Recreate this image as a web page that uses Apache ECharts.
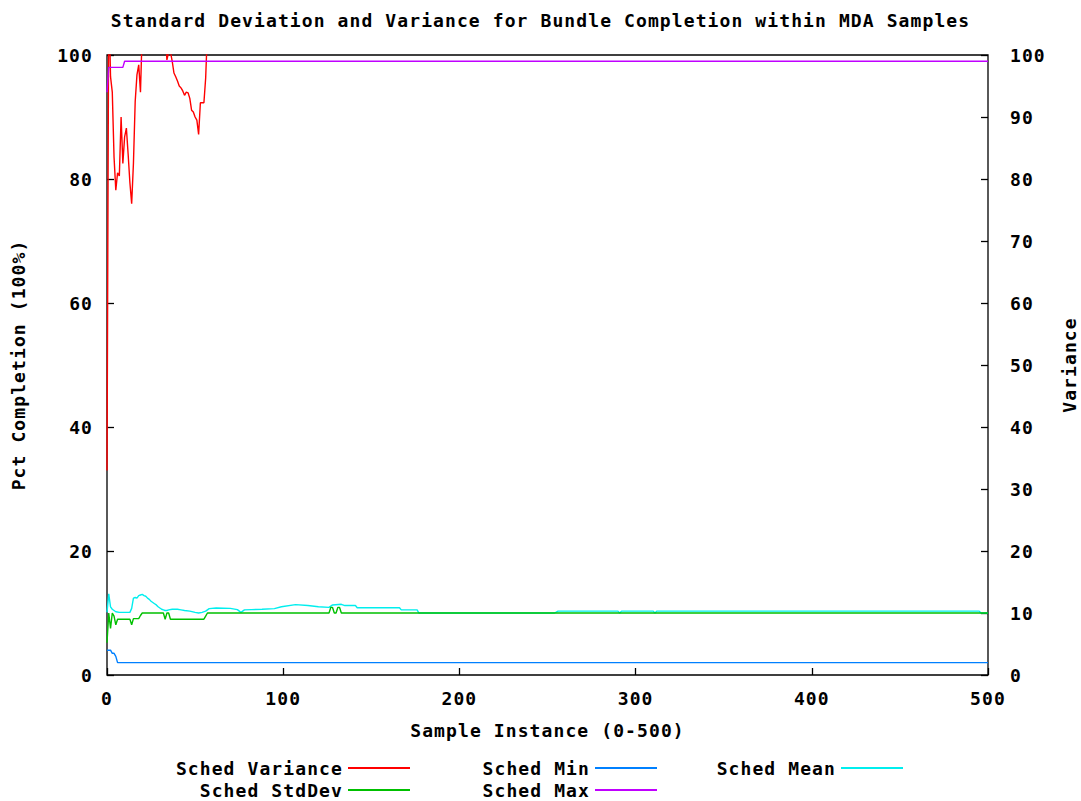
<!DOCTYPE html>
<html>
<head>
<meta charset="utf-8">
<title>Standard Deviation and Variance for Bundle Completion within MDA Samples</title>
<script src="https://cdn.jsdelivr.net/npm/echarts@6/dist/echarts.min.js"></script>
<style>
  html, body { margin: 0; padding: 0; background: #fff; }
  #chart { width: 1081px; height: 801px; }
  #chart text { letter-spacing: 1.1px; }
</style>
</head>
<body>
<div id="chart"></div>
<script>
// [sample, value] pairs; consecutive samples are joined by straight segments
const schedVariance = [
  [0, 33], [1, 110], [2, 96.5], [3, 94], [4, 83.5], [5, 78.2], [6, 81], [7, 80.5],
  [8, 90], [9, 82.5], [10, 86.8], [11, 88.2], [12, 84], [13, 79.4], [14, 76],
  [15, 82.5], [16, 92.5], [17, 96.8], [18, 98.4], [19, 94], [20, 104], [33, 104],
  [34, 99.2], [35, 100.5], [36, 100.5], [37, 99], [38, 97.1], [39, 96.5], [40, 95.8],
  [41, 95], [42, 94.7], [43, 94.2], [44, 93.5], [45, 94], [46, 93.9], [47, 93],
  [48, 91.1], [49, 90.8], [50, 90], [51, 89.5], [52, 87.2], [53, 92.3], [54, 92.3],
  [55, 92.3], [56, 96.3], [57, 104]
];
const schedStdDev = [
  [0, 5.2], [1, 10], [2, 7.5], [3, 10], [4, 9.5], [5, 8.1], [6, 9], [13, 9],
  [14, 8.1], [15, 9.1], [18, 9.1], [19, 9.6], [20, 10], [32, 10], [33, 9], [34, 10],
  [35, 10], [36, 9], [55, 9], [56, 9.5], [57, 10], [126, 10], [127, 10.9], [128, 10.9],
  [129, 10], [130, 10], [131, 10.9], [132, 10.9], [133, 10], [500, 10]
];
const schedMin = [[0, 4], [2, 4], [3, 3.5], [4, 3.5], [5, 3], [6, 2], [500, 2]];
const schedMax = [[0, 94], [1, 98], [9, 98], [10, 99], [500, 99]];
const schedMean = [
  [0, 10.1], [1, 13.1], [2, 11.0], [3, 10.6], [4, 10.4], [5, 10.2], [7, 10.1], [13, 10.1],
  [14, 10.75], [15, 12.4], [16, 12.5], [17, 12.4], [18, 12.8], [19, 12.9], [20, 13.0],
  [21, 12.8], [22, 12.7], [23, 12.4], [24, 12.2], [25, 11.9], [26, 11.7], [27, 11.5],
  [28, 11.3], [29, 11.0], [30, 10.8], [31, 10.6], [32, 10.5], [33, 10.4], [34, 10.4],
  [35, 10.5], [37, 10.6], [40, 10.6], [42, 10.5], [44, 10.4], [47, 10.3], [50, 10.1],
  [52, 10.0], [54, 10.1], [56, 10.3], [58, 10.7], [62, 10.8], [70, 10.75], [74, 10.55],
  [76, 10.1], [78, 10.5], [82, 10.55], [88, 10.6], [95, 10.7], [99, 11.0], [107, 11.35],
  [114, 11.2], [120, 11.0], [126, 10.9], [128, 11.3], [133, 11.4], [135, 11.2], [141, 11.2],
  [142, 10.85], [166, 10.85], [167, 10.5], [176, 10.5], [177, 10.0], [254, 10.0], [256, 10.3],
  [290, 10.3], [291, 10.0], [292, 10.3], [310, 10.3], [311, 10.0], [312, 10.3], [495, 10.3],
  [496, 10.0], [500, 10.0]
];

const FONT = 'DejaVu Sans Mono';
const txt = { fontFamily: FONT, fontWeight: 'bold', fontSize: 18, color: '#000' };

const colors = {
  'Sched Variance': '#ff0000',
  'Sched StdDev': '#00c000',
  'Sched Min': '#0080ff',
  'Sched Max': '#c000ff',
  'Sched Mean': '#00eeee'
};

function lineSeries(name, data, yAxisIndex) {
  return {
    name: name, type: 'line', data: data, yAxisIndex: yAxisIndex,
    symbol: 'none', clip: true, animation: false,
    lineStyle: { color: colors[name], width: 1.4 },
    itemStyle: { color: colors[name] },
    emphasis: { disabled: true }
  };
}

// one legend block per key entry: text right-justified before its line sample
function legendEntry(name, right, top) {
  return {
    data: [name], right: right, top: top, padding: 0, align: 'right',
    icon: 'rect', itemWidth: 62, itemHeight: 2, selectedMode: false,
    textStyle: Object.assign({}, txt)
  };
}

const chart = echarts.init(document.getElementById('chart'), null, { renderer: 'svg' });
chart.setOption({
  backgroundColor: '#fff',
  animation: false,
  title: {
    text: 'Standard Deviation and Variance for Bundle Completion within MDA Samples',
    left: 'center', top: 11, padding: 0,
    textStyle: Object.assign({}, txt)
  },
  grid: {
    left: 107, right: 93, top: 55, bottom: 126,
    outerBoundsMode: 'none', containLabel: false,
    show: true, borderColor: '#000', borderWidth: 1.3, backgroundColor: 'transparent'
  },
  xAxis: {
    type: 'value', min: 0, max: 500, interval: 100,
    name: 'Sample Instance (0-500)', nameLocation: 'middle', nameGap: 46,
    nameTextStyle: Object.assign({}, txt),
    axisLine: { show: false },
    axisTick: { show: true, inside: true, length: 7, lineStyle: { color: '#000', width: 1.3 } },
    axisLabel: Object.assign({ margin: 14 }, txt),
    splitLine: { show: false }
  },
  yAxis: [
    {
      type: 'value', min: 0, max: 100, interval: 20, position: 'left',
      name: 'Pct Completion (100%)', nameLocation: 'middle', nameGap: 80, nameRotate: 90,
      nameTextStyle: Object.assign({}, txt),
      axisLine: { show: false },
      axisTick: { show: true, inside: true, length: 7, lineStyle: { color: '#000', width: 1.3 } },
      axisLabel: Object.assign({ margin: 14 }, txt),
      splitLine: { show: false }
    },
    {
      type: 'value', min: 0, max: 100, interval: 10, position: 'right',
      name: 'Variance', nameLocation: 'middle', nameGap: 72, nameRotate: 90,
      nameTextStyle: Object.assign({}, txt),
      axisLine: { show: false },
      axisTick: { show: true, inside: true, length: 7, lineStyle: { color: '#000', width: 1.3 } },
      axisLabel: Object.assign({ margin: 22 }, txt),
      splitLine: { show: false }
    }
  ],
  legend: [
    legendEntry('Sched Variance', 671, 759),
    legendEntry('Sched StdDev', 671, 781),
    legendEntry('Sched Min', 424, 759),
    legendEntry('Sched Max', 424, 781),
    legendEntry('Sched Mean', 178, 759)
  ],
  series: [
    lineSeries('Sched Variance', schedVariance, 1),
    lineSeries('Sched Min', schedMin, 0),
    lineSeries('Sched Mean', schedMean, 0),
    lineSeries('Sched StdDev', schedStdDev, 0),
    lineSeries('Sched Max', schedMax, 0)
  ]
});
</script>
</body>
</html>
